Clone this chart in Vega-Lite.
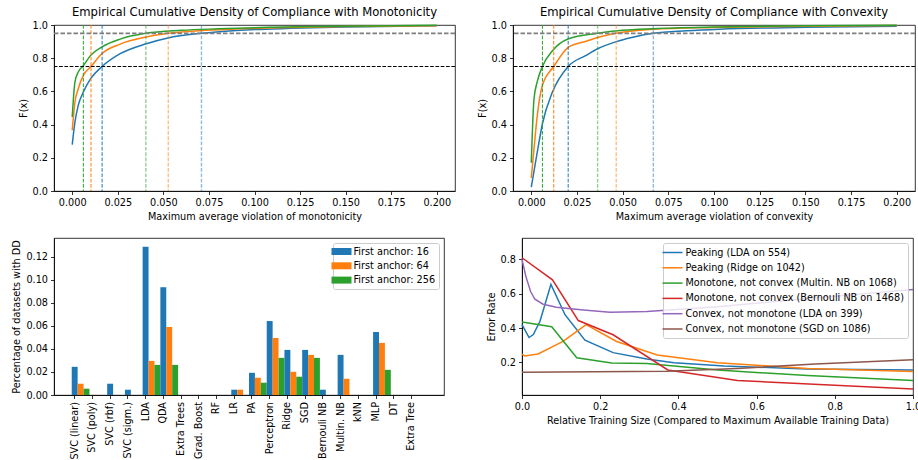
{
  "$schema": "https://vega.github.io/schema/vega-lite/v6.json",
  "background": "white",
  "padding": {"left": 11, "top": 7, "right": 0, "bottom": 0},
  "config": {
    "font": "DejaVu Sans",
    "view": {"stroke": "black", "strokeWidth": 0.8},
    "axis": {"labelFont": "DejaVu Sans", "labelFontSize": 9.7, "titleFont": "DejaVu Sans", "titleFontSize": 9.7, "titleFontWeight": "normal", "labelColor": "black", "titleColor": "black", "tickColor": "black", "domainColor": "black", "tickSize": 3.5, "tickWidth": 0.8, "domainWidth": 0.8, "grid": false, "labelPadding": 3, "titlePadding": 4, "labelFlush": false, "labelOverlap": false},
    "title": {"font": "DejaVu Sans", "fontSize": 11.6, "fontWeight": "normal", "color": "black", "offset": 1},
    "legend": {"labelFont": "DejaVu Sans", "labelFontSize": 9.7, "labelColor": "black", "fillColor": "rgba(255,255,255,0.8)", "strokeColor": "#cccccc", "cornerRadius": 2, "padding": 3.5, "labelLimit": 400}
  },
  "datasets": {
    "mono": [
      {"a": "16", "x": 0, "F": 0.279}, {"a": "16", "x": 0.0015, "F": 0.416}, {"a": "16", "x": 0.0033, "F": 0.516}, {"a": "16", "x": 0.0061, "F": 0.596}, {"a": "16", "x": 0.0101, "F": 0.677}, {"a": "16", "x": 0.0164, "F": 0.75}, {"a": "16", "x": 0.0263, "F": 0.827}, {"a": "16", "x": 0.0406, "F": 0.887}, {"a": "16", "x": 0.0525, "F": 0.922}, {"a": "16", "x": 0.0709, "F": 0.95}, {"a": "16", "x": 0.09, "F": 0.967}, {"a": "16", "x": 0.12, "F": 0.98}, {"a": "16", "x": 0.15, "F": 0.988}, {"a": "16", "x": 0.2, "F": 0.995},
      {"a": "64", "x": 0, "F": 0.366}, {"a": "64", "x": 0.0015, "F": 0.536}, {"a": "64", "x": 0.0033, "F": 0.616}, {"a": "64", "x": 0.0061, "F": 0.697}, {"a": "64", "x": 0.0103, "F": 0.75}, {"a": "64", "x": 0.0162, "F": 0.827}, {"a": "64", "x": 0.0263, "F": 0.885}, {"a": "64", "x": 0.0406, "F": 0.928}, {"a": "64", "x": 0.0527, "F": 0.95}, {"a": "64", "x": 0.07, "F": 0.966}, {"a": "64", "x": 0.09, "F": 0.976}, {"a": "64", "x": 0.12, "F": 0.985}, {"a": "64", "x": 0.15, "F": 0.991}, {"a": "64", "x": 0.2, "F": 0.996},
      {"a": "256", "x": 0, "F": 0.446}, {"a": "256", "x": 0.0015, "F": 0.657}, {"a": "256", "x": 0.0033, "F": 0.717}, {"a": "256", "x": 0.0061, "F": 0.755}, {"a": "256", "x": 0.0101, "F": 0.817}, {"a": "256", "x": 0.0162, "F": 0.867}, {"a": "256", "x": 0.0263, "F": 0.915}, {"a": "256", "x": 0.0404, "F": 0.95}, {"a": "256", "x": 0.06, "F": 0.968}, {"a": "256", "x": 0.08, "F": 0.977}, {"a": "256", "x": 0.1, "F": 0.984}, {"a": "256", "x": 0.15, "F": 0.993}, {"a": "256", "x": 0.2, "F": 0.998}
    ],
    "conv": [
      {"a": "16", "x": 0, "F": 0.024}, {"a": "16", "x": 0.0033, "F": 0.235}, {"a": "16", "x": 0.0061, "F": 0.405}, {"a": "16", "x": 0.0116, "F": 0.596}, {"a": "16", "x": 0.0202, "F": 0.75}, {"a": "16", "x": 0.03, "F": 0.817}, {"a": "16", "x": 0.0363, "F": 0.857}, {"a": "16", "x": 0.0465, "F": 0.9}, {"a": "16", "x": 0.055, "F": 0.925}, {"a": "16", "x": 0.0668, "F": 0.95}, {"a": "16", "x": 0.085, "F": 0.965}, {"a": "16", "x": 0.103, "F": 0.975}, {"a": "16", "x": 0.15, "F": 0.986}, {"a": "16", "x": 0.2, "F": 0.993},
      {"a": "64", "x": 0, "F": 0.078}, {"a": "64", "x": 0.0015, "F": 0.255}, {"a": "64", "x": 0.0033, "F": 0.456}, {"a": "64", "x": 0.0061, "F": 0.637}, {"a": "64", "x": 0.0123, "F": 0.75}, {"a": "64", "x": 0.0204, "F": 0.867}, {"a": "64", "x": 0.03, "F": 0.902}, {"a": "64", "x": 0.0363, "F": 0.925}, {"a": "64", "x": 0.0465, "F": 0.95}, {"a": "64", "x": 0.0666, "F": 0.974}, {"a": "64", "x": 0.1, "F": 0.985}, {"a": "64", "x": 0.15, "F": 0.993}, {"a": "64", "x": 0.2, "F": 0.997},
      {"a": "256", "x": 0, "F": 0.17}, {"a": "256", "x": 0.0015, "F": 0.556}, {"a": "256", "x": 0.0033, "F": 0.66}, {"a": "256", "x": 0.0061, "F": 0.75}, {"a": "256", "x": 0.0116, "F": 0.845}, {"a": "256", "x": 0.0204, "F": 0.917}, {"a": "256", "x": 0.0363, "F": 0.95}, {"a": "256", "x": 0.05, "F": 0.968}, {"a": "256", "x": 0.0666, "F": 0.978}, {"a": "256", "x": 0.1, "F": 0.988}, {"a": "256", "x": 0.15, "F": 0.995}, {"a": "256", "x": 0.2, "F": 0.998}
    ],
    "monoQ": [
      {"a": "16", "lvl": 0.75, "q": 0.0164}, {"a": "64", "lvl": 0.75, "q": 0.0103}, {"a": "256", "lvl": 0.75, "q": 0.0061},
      {"a": "16", "lvl": 0.95, "q": 0.0709}, {"a": "64", "lvl": 0.95, "q": 0.0527}, {"a": "256", "lvl": 0.95, "q": 0.0404}
    ],
    "convQ": [
      {"a": "16", "lvl": 0.75, "q": 0.0202}, {"a": "64", "lvl": 0.75, "q": 0.0123}, {"a": "256", "lvl": 0.75, "q": 0.0061},
      {"a": "16", "lvl": 0.95, "q": 0.0668}, {"a": "64", "lvl": 0.95, "q": 0.0465}, {"a": "256", "lvl": 0.95, "q": 0.0363}
    ],
    "dd": [
      {"m": "SVC (linear)", "a": "16", "v": 0.0245}, {"m": "SVC (linear)", "a": "64", "v": 0.0098}, {"m": "SVC (linear)", "a": "256", "v": 0.0055},
      {"m": "SVC (poly)", "a": "16", "v": 0}, {"m": "SVC (poly)", "a": "64", "v": 0}, {"m": "SVC (poly)", "a": "256", "v": 0},
      {"m": "SVC (rbf)", "a": "16", "v": 0.0098}, {"m": "SVC (rbf)", "a": "64", "v": 0}, {"m": "SVC (rbf)", "a": "256", "v": 0},
      {"m": "SVC (sigm.)", "a": "16", "v": 0.0046}, {"m": "SVC (sigm.)", "a": "64", "v": 0}, {"m": "SVC (sigm.)", "a": "256", "v": 0},
      {"m": "LDA", "a": "16", "v": 0.129}, {"m": "LDA", "a": "64", "v": 0.0297}, {"m": "LDA", "a": "256", "v": 0.0262},
      {"m": "QDA", "a": "16", "v": 0.0937}, {"m": "QDA", "a": "64", "v": 0.0591}, {"m": "QDA", "a": "256", "v": 0.0262},
      {"m": "Extra Trees", "a": "16", "v": 0}, {"m": "Extra Trees", "a": "64", "v": 0}, {"m": "Extra Trees", "a": "256", "v": 0},
      {"m": "Grad. Boost", "a": "16", "v": 0}, {"m": "Grad. Boost", "a": "64", "v": 0}, {"m": "Grad. Boost", "a": "256", "v": 0},
      {"m": "RF", "a": "16", "v": 0}, {"m": "RF", "a": "64", "v": 0}, {"m": "RF", "a": "256", "v": 0},
      {"m": "LR", "a": "16", "v": 0.0046}, {"m": "LR", "a": "64", "v": 0.0046}, {"m": "LR", "a": "256", "v": 0},
      {"m": "PA", "a": "16", "v": 0.0193}, {"m": "PA", "a": "64", "v": 0.015}, {"m": "PA", "a": "256", "v": 0.0107},
      {"m": "Perceptron", "a": "16", "v": 0.0643}, {"m": "Perceptron", "a": "64", "v": 0.0496}, {"m": "Perceptron", "a": "256", "v": 0.0323},
      {"m": "Ridge", "a": "16", "v": 0.0392}, {"m": "Ridge", "a": "64", "v": 0.0202}, {"m": "Ridge", "a": "256", "v": 0.0159},
      {"m": "SGD", "a": "16", "v": 0.0392}, {"m": "SGD", "a": "64", "v": 0.0349}, {"m": "SGD", "a": "256", "v": 0.0323},
      {"m": "Bernouli NB", "a": "16", "v": 0.0046}, {"m": "Bernouli NB", "a": "64", "v": 0}, {"m": "Bernouli NB", "a": "256", "v": 0},
      {"m": "Multin. NB", "a": "16", "v": 0.0349}, {"m": "Multin. NB", "a": "64", "v": 0.0141}, {"m": "Multin. NB", "a": "256", "v": 0},
      {"m": "kNN", "a": "16", "v": 0}, {"m": "kNN", "a": "64", "v": 0}, {"m": "kNN", "a": "256", "v": 0},
      {"m": "MLP", "a": "16", "v": 0.0548}, {"m": "MLP", "a": "64", "v": 0.0453}, {"m": "MLP", "a": "256", "v": 0.0219},
      {"m": "DT", "a": "16", "v": 0}, {"m": "DT", "a": "64", "v": 0}, {"m": "DT", "a": "256", "v": 0},
      {"m": "Extra Tree", "a": "16", "v": 0}, {"m": "Extra Tree", "a": "64", "v": 0}, {"m": "Extra Tree", "a": "256", "v": 0}
    ],
    "curves": [
      {"s": "Peaking (LDA on 554)", "x": 0, "y": 0.42}, {"s": "Peaking (LDA on 554)", "x": 0.018, "y": 0.345}, {"s": "Peaking (LDA on 554)", "x": 0.029, "y": 0.362}, {"s": "Peaking (LDA on 554)", "x": 0.046, "y": 0.44}, {"s": "Peaking (LDA on 554)", "x": 0.074, "y": 0.655}, {"s": "Peaking (LDA on 554)", "x": 0.11, "y": 0.478}, {"s": "Peaking (LDA on 554)", "x": 0.161, "y": 0.33}, {"s": "Peaking (LDA on 554)", "x": 0.233, "y": 0.257}, {"s": "Peaking (LDA on 554)", "x": 0.319, "y": 0.22}, {"s": "Peaking (LDA on 554)", "x": 0.389, "y": 0.198}, {"s": "Peaking (LDA on 554)", "x": 0.517, "y": 0.179}, {"s": "Peaking (LDA on 554)", "x": 0.73, "y": 0.162}, {"s": "Peaking (LDA on 554)", "x": 1.0, "y": 0.155},
      {"s": "Peaking (Ridge on 1042)", "x": 0, "y": 0.248}, {"s": "Peaking (Ridge on 1042)", "x": 0.007, "y": 0.238}, {"s": "Peaking (Ridge on 1042)", "x": 0.041, "y": 0.249}, {"s": "Peaking (Ridge on 1042)", "x": 0.105, "y": 0.322}, {"s": "Peaking (Ridge on 1042)", "x": 0.164, "y": 0.42}, {"s": "Peaking (Ridge on 1042)", "x": 0.242, "y": 0.322}, {"s": "Peaking (Ridge on 1042)", "x": 0.346, "y": 0.243}, {"s": "Peaking (Ridge on 1042)", "x": 0.5, "y": 0.198}, {"s": "Peaking (Ridge on 1042)", "x": 0.73, "y": 0.165}, {"s": "Peaking (Ridge on 1042)", "x": 1.0, "y": 0.147},
      {"s": "Monotone, not convex (Multin. NB on 1068)", "x": 0, "y": 0.435}, {"s": "Monotone, not convex (Multin. NB on 1068)", "x": 0.076, "y": 0.408}, {"s": "Monotone, not convex (Multin. NB on 1068)", "x": 0.14, "y": 0.227}, {"s": "Monotone, not convex (Multin. NB on 1068)", "x": 0.229, "y": 0.197}, {"s": "Monotone, not convex (Multin. NB on 1068)", "x": 0.319, "y": 0.193}, {"s": "Monotone, not convex (Multin. NB on 1068)", "x": 0.5, "y": 0.156}, {"s": "Monotone, not convex (Multin. NB on 1068)", "x": 0.73, "y": 0.123}, {"s": "Monotone, not convex (Multin. NB on 1068)", "x": 1.0, "y": 0.094},
      {"s": "Monotone, not convex (Bernouli NB on 1468)", "x": 0, "y": 0.81}, {"s": "Monotone, not convex (Bernouli NB on 1468)", "x": 0.078, "y": 0.681}, {"s": "Monotone, not convex (Bernouli NB on 1468)", "x": 0.144, "y": 0.444}, {"s": "Monotone, not convex (Bernouli NB on 1468)", "x": 0.233, "y": 0.361}, {"s": "Monotone, not convex (Bernouli NB on 1468)", "x": 0.373, "y": 0.156}, {"s": "Monotone, not convex (Bernouli NB on 1468)", "x": 0.551, "y": 0.094}, {"s": "Monotone, not convex (Bernouli NB on 1468)", "x": 1.0, "y": 0.045},
      {"s": "Convex, not monotone (LDA on 399)", "x": 0, "y": 0.8}, {"s": "Convex, not monotone (LDA on 399)", "x": 0.01, "y": 0.7}, {"s": "Convex, not monotone (LDA on 399)", "x": 0.022, "y": 0.613}, {"s": "Convex, not monotone (LDA on 399)", "x": 0.033, "y": 0.568}, {"s": "Convex, not monotone (LDA on 399)", "x": 0.054, "y": 0.539}, {"s": "Convex, not monotone (LDA on 399)", "x": 0.088, "y": 0.522}, {"s": "Convex, not monotone (LDA on 399)", "x": 0.157, "y": 0.506}, {"s": "Convex, not monotone (LDA on 399)", "x": 0.225, "y": 0.493}, {"s": "Convex, not monotone (LDA on 399)", "x": 0.319, "y": 0.497}, {"s": "Convex, not monotone (LDA on 399)", "x": 0.5, "y": 0.525}, {"s": "Convex, not monotone (LDA on 399)", "x": 0.7, "y": 0.565}, {"s": "Convex, not monotone (LDA on 399)", "x": 1.0, "y": 0.625},
      {"s": "Convex, not monotone (SGD on 1086)", "x": 0, "y": 0.143}, {"s": "Convex, not monotone (SGD on 1086)", "x": 0.37, "y": 0.148}, {"s": "Convex, not monotone (SGD on 1086)", "x": 0.55, "y": 0.165}, {"s": "Convex, not monotone (SGD on 1086)", "x": 0.75, "y": 0.19}, {"s": "Convex, not monotone (SGD on 1086)", "x": 1.0, "y": 0.215}
    ]
  },
  "spacing": 15,
  "resolve": {"scale": {"color": "independent"}, "legend": {"color": "independent"}},
  "vconcat": [
    {
      "bounds": "flush",
      "spacing": 58,
      "resolve": {"scale": {"color": "independent"}, "legend": {"color": "independent"}},
      "hconcat": [
        {
          "width": 401, "height": 166,
          "title": "Empirical Cumulative Density of Compliance with Monotonicity",
          "layer": [
            {
              "data": {"name": "mono"},
              "mark": {"type": "line", "strokeWidth": 1.5, "interpolate": "monotone"},
              "encoding": {
                "x": {"field": "x", "type": "quantitative", "scale": {"domain": [-0.01, 0.21], "nice": false, "zero": false}, "axis": {"title": "Maximum average violation of monotonicity", "values": [0, 0.025, 0.05, 0.075, 0.1, 0.125, 0.15, 0.175, 0.2], "format": ".3f"}},
                "y": {"field": "F", "type": "quantitative", "scale": {"domain": [0, 1], "nice": false}, "axis": {"title": "F(x)", "values": [0, 0.2, 0.4, 0.6, 0.8, 1.0], "format": ".1f", "labelOverlap": false}},
                "color": {"field": "a", "type": "nominal", "scale": {"domain": ["16", "64", "256"], "range": ["#1f77b4", "#ff7f0e", "#2ca02c"]}, "legend": null}
              }
            },
            {
              "data": {"name": "monoQ"},
              "mark": {"type": "rule", "strokeDash": [3.7, 1.6]},
              "encoding": {
                "x": {"field": "q", "type": "quantitative", "axis": {"title": "Maximum average violation of monotonicity", "values": [0, 0.025, 0.05, 0.075, 0.1, 0.125, 0.15, 0.175, 0.2], "format": ".3f"}},
                "color": {"field": "a", "type": "nominal", "legend": null},
                "opacity": {"condition": {"test": "datum.lvl > 0.9", "value": 0.5}, "value": 1},
                "strokeWidth": {"condition": {"test": "datum.lvl > 0.9", "value": 1.4}, "value": 1}
              }
            },
            {
              "data": {"values": [{"lvl": 0.75}]},
              "mark": {"type": "rule", "color": "black", "strokeWidth": 1, "strokeDash": [3.7, 1.6]},
              "encoding": {"y": {"field": "lvl", "type": "quantitative", "axis": {"title": "F(x)", "values": [0, 0.2, 0.4, 0.6, 0.8, 1.0], "format": ".1f", "labelOverlap": false}}}
            },
            {
              "data": {"values": [{"lvl": 0.95}]},
              "mark": {"type": "rule", "color": "#7f7f7f", "strokeWidth": 1.8, "strokeDash": [4.5, 2]},
              "encoding": {"y": {"field": "lvl", "type": "quantitative", "axis": {"title": "F(x)", "values": [0, 0.2, 0.4, 0.6, 0.8, 1.0], "format": ".1f", "labelOverlap": false}}}
            }
          ]
        },
        {
          "width": 402, "height": 166,
          "title": "Empirical Cumulative Density of Compliance with Convexity",
          "layer": [
            {
              "data": {"name": "conv"},
              "mark": {"type": "line", "strokeWidth": 1.5, "interpolate": "monotone"},
              "encoding": {
                "x": {"field": "x", "type": "quantitative", "scale": {"domain": [-0.01, 0.21], "nice": false, "zero": false}, "axis": {"title": "Maximum average violation of convexity", "values": [0, 0.025, 0.05, 0.075, 0.1, 0.125, 0.15, 0.175, 0.2], "format": ".3f"}},
                "y": {"field": "F", "type": "quantitative", "scale": {"domain": [0, 1], "nice": false}, "axis": {"title": "F(x)", "values": [0, 0.2, 0.4, 0.6, 0.8, 1.0], "format": ".1f", "labelOverlap": false}},
                "color": {"field": "a", "type": "nominal", "scale": {"domain": ["16", "64", "256"], "range": ["#1f77b4", "#ff7f0e", "#2ca02c"]}, "legend": null}
              }
            },
            {
              "data": {"name": "convQ"},
              "mark": {"type": "rule", "strokeDash": [3.7, 1.6]},
              "encoding": {
                "x": {"field": "q", "type": "quantitative", "axis": {"title": "Maximum average violation of convexity", "values": [0, 0.025, 0.05, 0.075, 0.1, 0.125, 0.15, 0.175, 0.2], "format": ".3f"}},
                "color": {"field": "a", "type": "nominal", "legend": null},
                "opacity": {"condition": {"test": "datum.lvl > 0.9", "value": 0.5}, "value": 1},
                "strokeWidth": {"condition": {"test": "datum.lvl > 0.9", "value": 1.4}, "value": 1}
              }
            },
            {
              "data": {"values": [{"lvl": 0.75}]},
              "mark": {"type": "rule", "color": "black", "strokeWidth": 1, "strokeDash": [3.7, 1.6]},
              "encoding": {"y": {"field": "lvl", "type": "quantitative", "axis": {"title": "F(x)", "values": [0, 0.2, 0.4, 0.6, 0.8, 1.0], "format": ".1f", "labelOverlap": false}}}
            },
            {
              "data": {"values": [{"lvl": 0.95}]},
              "mark": {"type": "rule", "color": "#7f7f7f", "strokeWidth": 1.8, "strokeDash": [4.5, 2]},
              "encoding": {"y": {"field": "lvl", "type": "quantitative", "axis": {"title": "F(x)", "values": [0, 0.2, 0.4, 0.6, 0.8, 1.0], "format": ".1f", "labelOverlap": false}}}
            }
          ]
        }
      ]
    },
    {
      "bounds": "flush",
      "spacing": 78,
      "resolve": {"scale": {"color": "independent"}, "legend": {"color": "independent"}},
      "hconcat": [
        {
          "width": 390, "height": 157,
          "data": {"name": "dd"},
          "mark": {"type": "bar"},
          "encoding": {
            "x": {"field": "m", "type": "nominal", "sort": null, "scale": {"paddingInner": 0, "paddingOuter": 1, "align": 0.3333}, "axis": {"title": null, "labelAngle": -90, "labelAlign": "right", "labelBaseline": "middle", "labelPadding": 3}},
            "xOffset": {"field": "a", "type": "nominal", "sort": ["16", "64", "256"], "scale": {"range": [5.909, 23.636], "paddingInner": 0, "paddingOuter": 0}},
            "y": {"field": "v", "type": "quantitative", "scale": {"domain": [0, 0.1365], "nice": false}, "axis": {"title": "Percentage of datasets with DD", "values": [0, 0.02, 0.04, 0.06, 0.08, 0.1, 0.12], "format": ".2f"}},
            "color": {"field": "a", "type": "nominal", "scale": {"domain": ["16", "64", "256"], "range": ["#1f77b4", "#ff7f0e", "#2ca02c"]}, "legend": {"title": null, "orient": "top-right", "offset": 5, "labelExpr": "'First anchor: ' + datum.label", "symbolType": "M-2,-0.7H2V0.7H-2Z", "symbolSize": 100, "symbolStrokeWidth": 0, "symbolOpacity": 1, "rowPadding": 4.3, "labelOffset": 7}}
          }
        },
        {
          "width": 391, "height": 157,
          "data": {"name": "curves"},
          "mark": {"type": "line", "strokeWidth": 1.5},
          "encoding": {
            "x": {"field": "x", "type": "quantitative", "scale": {"domain": [0, 1], "nice": false}, "axis": {"title": "Relative Training Size (Compared to Maximum Available Training Data)", "values": [0, 0.2, 0.4, 0.6, 0.8, 1.0], "format": ".1f"}},
            "y": {"field": "y", "type": "quantitative", "scale": {"domain": [0.01, 0.925], "nice": false, "zero": false}, "axis": {"title": "Error Rate", "values": [0.2, 0.4, 0.6, 0.8], "format": ".1f"}},
            "color": {"field": "s", "type": "nominal", "scale": {"domain": ["Peaking (LDA on 554)", "Peaking (Ridge on 1042)", "Monotone, not convex (Multin. NB on 1068)", "Monotone, not convex (Bernouli NB on 1468)", "Convex, not monotone (LDA on 399)", "Convex, not monotone (SGD on 1086)"], "range": ["#1f77b4", "#ff7f0e", "#2ca02c", "#d62728", "#9467bd", "#8c564b"]}, "legend": {"title": null, "orient": "top-right", "offset": 5, "symbolType": "M-2,0H2", "symbolSize": 100, "symbolStrokeWidth": 1.5, "rowPadding": 4.3, "labelOffset": 7}}
          }
        }
      ]
    }
  ]
}
